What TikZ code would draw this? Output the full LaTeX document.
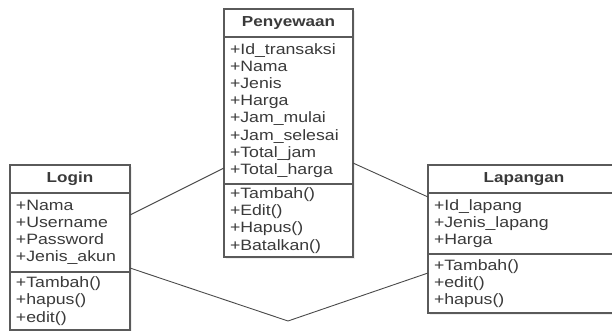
\documentclass[tikz,border=0pt]{standalone}
\usepackage{fontspec}
\newfontfamily\umlfont{Liberation Sans}[FakeStretch=1.18]
\usetikzlibrary{shadows}
\definecolor{boxgray}{HTML}{5A5A5A}
\definecolor{txtgray}{HTML}{3A3A3A}
\definecolor{linegray}{HTML}{4A4A4A}
\tikzset{
  part/.style={draw=boxgray, line width=1.2pt, fill=white, text=txtgray, outer sep=0pt,
    inner xsep=6pt, inner ysep=0pt, anchor=north west, align=left,
    font=\umlfont\fontsize{15}{17.2}\selectfont,
    drop shadow={opacity=0.12, shadow xshift=1.5pt, shadow yshift=-2pt}},
  head/.style={part, align=center, font=\umlfont\bfseries\fontsize{14.5}{17.2}\selectfont},
  assoc/.style={draw=linegray, line width=0.9pt}
}
\begin{document}
\begin{tikzpicture}[x=1pt, y=-1pt]
  \clip (0,0) rectangle (612,331);
  \fill[white] (0,0) rectangle (612,331);
  \node[head, text width=108pt, minimum height=28pt] (loginT) at (10,165) {Login};
  \node[part, text width=108pt, minimum height=79pt] (loginA) at (loginT.south west) {+Nama\\+Username\\+Password\\+Jenis\_akun};
  \node[part, text width=108pt, minimum height=58pt] (loginM) at (loginA.south west) {+Tambah()\\+hapus()\\+edit()};
  \node[head, text width=117pt, minimum height=28pt] (sewaT) at (224,9) {Penyewaan};
  \node[part, text width=117pt, minimum height=147pt] (sewaA) at (sewaT.south west) {+Id\_transaksi\\+Nama\\+Jenis\\+Harga\\+Jam\_mulai\\+Jam\_selesai\\+Total\_jam\\+Total\_harga};
  \node[part, text width=117pt, minimum height=73pt] (sewaM) at (sewaA.south west) {+Tambah()\\+Edit()\\+Hapus()\\+Batalkan()};
  \node[head, text width=180pt, minimum height=28pt] (lapT) at (428,165) {Lapangan};
  \node[part, text width=180pt, minimum height=61pt] (lapA) at (lapT.south west) {+Id\_lapang\\+Jenis\_lapang\\+Harga};
  \node[part, text width=180pt, minimum height=59pt] (lapM) at (lapA.south west) {+Tambah()\\+edit()\\+hapus()};
  \coordinate (bend) at (288,321);
  \draw[assoc] ([yshift=17.5pt]loginA.east) -- ([yshift=-57.5pt]sewaA.west);
  \draw[assoc] ([yshift=-52.5pt]sewaA.east) -- ([yshift=26.5pt]lapA.west);
  \draw[assoc] ([yshift=-35.5pt]loginA.east) -- (bend) -- ([yshift=10.5pt]lapM.west);
\end{tikzpicture}
\end{document}
